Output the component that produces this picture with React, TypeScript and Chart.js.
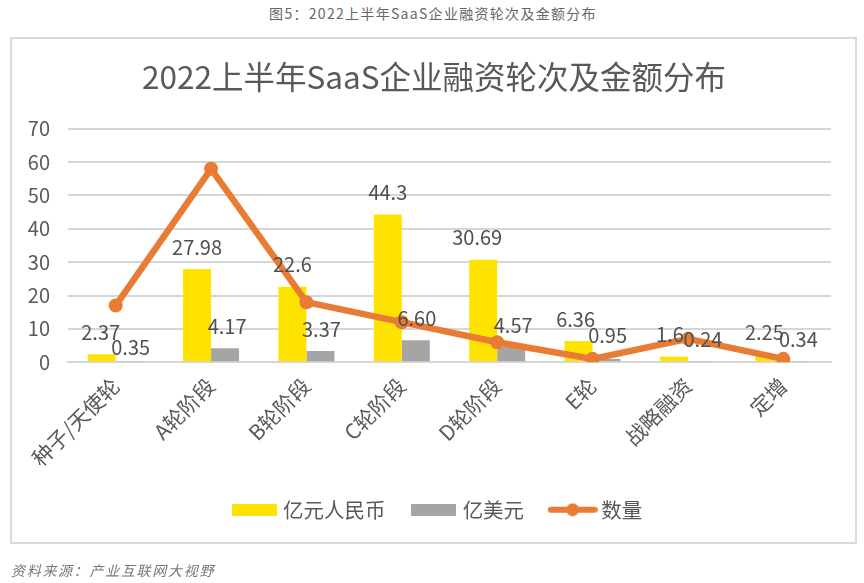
import React, { useEffect, useRef } from "react";
import { Chart, registerables } from "chart.js";

Chart.register(...registerables);

const categories = ["种子/天使轮", "A轮阶段", "B轮阶段", "C轮阶段", "D轮阶段", "E轮", "战略融资", "定增"];
const rmbValues = [2.37, 27.98, 22.6, 44.3, 30.69, 6.36, 1.6, 2.25];
const usdValues = [0.35, 4.17, 3.37, 6.6, 4.57, 0.95, 0.24, 0.34];
const countValues = [17, 58, 18, 12, 6, 1, 7, 1];
const rmbLabels = ["2.37", "27.98", "22.6", "44.3", "30.69", "6.36", "1.6", "2.25"];
const usdLabels = ["0.35", "4.17", "3.37", "6.60", "4.57", "0.95", "0.24", "0.34"];
const yTicks = [0, 10, 20, 30, 40, 50, 60, 70];

const FONT = '"Noto Sans CJK SC", "Noto Sans", sans-serif';
const TITLE = "2022上半年SaaS企业融资轮次及金额分布";
const HEADER = "图5\uFF1A2022上半年SaaS企业融资轮次及金额分布";
const SOURCE = "资料来源\uFF1A产业互联网大视野";
const YELLOW = "#FFE300";
const GRAY = "#A5A5A5";
const ORANGE = "#E97C35";

function swatchBar(color: string) {
  const c = document.createElement("canvas");
  c.width = 45;
  c.height = 12;
  const g = c.getContext("2d")!;
  g.fillStyle = color;
  g.fillRect(0, 0, 45, 12);
  return c;
}

function swatchLine(color: string) {
  const c = document.createElement("canvas");
  c.width = 50;
  c.height = 14;
  const g = c.getContext("2d")!;
  g.strokeStyle = color;
  g.lineWidth = 6;
  g.lineCap = "round";
  g.beginPath();
  g.moveTo(3, 7);
  g.lineTo(47, 7);
  g.stroke();
  g.fillStyle = color;
  g.beginPath();
  g.arc(25, 7, 6.5, 0, Math.PI * 2);
  g.fill();
  return c;
}

const valueLabelPlugin = {
  id: "valueLabels",
  afterLayout(chart: any) {
    chart.legend.left += 5;
    chart.legend.right += 5;
  },
  afterDatasetsDraw(chart: any) {
    const { ctx } = chart;
    const nudgesX = [
      [-1, 0, 0, 0, -6, -3, -4, -5],
      [1, 2, 1, 1, 2, 1, 1, 1],
    ];
    const nudgesY = [
      [0, 0, 0, 0, 0, 0, 0, 0],
      [8, 0, 0, 0, 0, -2, 0, 0],
    ];
    const texts = [rmbLabels, usdLabels];
    ctx.save();
    ctx.font = `20px ${FONT}`;
    ctx.fillStyle = "#505050";
    ctx.textAlign = "center";
    ctx.textBaseline = "middle";
    [0, 1].forEach((ds) => {
      chart.getDatasetMeta(ds).data.forEach((bar: any, i: number) => {
        ctx.fillText(texts[ds][i], bar.x + nudgesX[ds][i], bar.y - 22 + nudgesY[ds][i]);
      });
    });
    ctx.restore();
  },
};

export default function App() {
  const ref = useRef<HTMLCanvasElement>(null);

  useEffect(() => {
    document.body.style.margin = "0";
    const swatches = [swatchBar(YELLOW), swatchBar(GRAY), swatchLine(ORANGE)];
    const chart = new Chart(ref.current!, {
      type: "bar",
      data: {
        labels: categories,
        datasets: [
          { type: "bar", label: "亿元人民币", data: rmbValues, backgroundColor: YELLOW, order: 2 },
          { type: "bar", label: "亿美元", data: usdValues, backgroundColor: GRAY, order: 2 },
          {
            type: "line",
            label: "数量",
            data: countValues,
            borderColor: ORANGE,
            backgroundColor: ORANGE,
            borderWidth: 6.5,
            pointRadius: 7,
            pointBorderWidth: 0,
            pointBackgroundColor: ORANGE,
            tension: 0,
            order: 1,
          },
        ] as any,
      },
      options: {
        responsive: false,
        animation: false,
        devicePixelRatio: 1,
        layout: { padding: { left: 4, right: 0, top: 58, bottom: 53 } },
        datasets: { bar: { categoryPercentage: 0.587, barPercentage: 1 } },
        scales: {
          x: {
            afterFit: (s: any) => {
              s.height = 107.3;
            },
            grid: { display: false },
            border: { color: "#D6D6D6", width: 2 },
            ticks: {
              color: "#595959",
              font: { family: FONT, size: 21 },
              minRotation: 45,
              maxRotation: 45,
              padding: 3,
              autoSkip: false,
            },
          },
          y: {
            min: 0,
            max: 70,
            afterFit: (s: any) => {
              s.width = 64;
            },
            afterBuildTicks: (s: any) => {
              s.ticks = yTicks.map((value) => ({ value }));
            },
            grid: { color: "#D6D6D6", lineWidth: 2, drawTicks: false },
            border: { display: false },
            ticks: {
              color: "#595959",
              font: { family: FONT, size: 20 },
              padding: 18,
            },
          },
          gutter: {
            position: "right",
            afterFit: (s: any) => {
              s.width = 33;
            },
            grid: { display: false },
            border: { display: false },
            ticks: { display: false },
          },
        },
        plugins: {
          tooltip: { enabled: false },
          title: {
            display: true,
            text: TITLE,
            color: "#595959",
            font: { family: FONT, size: 31.5, weight: "normal", lineHeight: 1.2 },
            padding: { top: 0, bottom: 33 },
          },
          legend: {
            position: "bottom",
            labels: {
              color: "#595959",
              font: { family: FONT, size: 20.5 },
              usePointStyle: true,
              pointStyleWidth: 37,
              padding: 30,
              generateLabels: (c: any) =>
                c.data.datasets.map((d: any, i: number) => ({
                  text: d.label,
                  datasetIndex: i,
                  hidden: false,
                  fontColor: "#595959",
                  pointStyle: swatches[i],
                  lineWidth: 0,
                })),
            },
          },
        },
      } as any,
      plugins: [valueLabelPlugin],
    });
    return () => chart.destroy();
  }, []);

  return (
    <div style={{ position: "relative", width: 864, height: 583, background: "#fff", overflow: "hidden", fontFamily: FONT }}>
      <div style={{ position: "absolute", left: 0, width: 866, top: 3, textAlign: "center", fontSize: 14, letterSpacing: 1.3, color: "#666", lineHeight: "20px" }}>
        {HEADER}
      </div>
      <div style={{ position: "absolute", left: 10, top: 37, width: 843, height: 503, border: "2.5px solid #DADADA" }} />
      <canvas ref={ref} width={864} height={583} style={{ position: "absolute", left: 0, top: 0 }} />
      <div style={{ position: "absolute", left: 11, top: 560, fontSize: 14, letterSpacing: 1.7, fontStyle: "italic", color: "#777", lineHeight: "20px" }}>
        {SOURCE}
      </div>
    </div>
  );
}
